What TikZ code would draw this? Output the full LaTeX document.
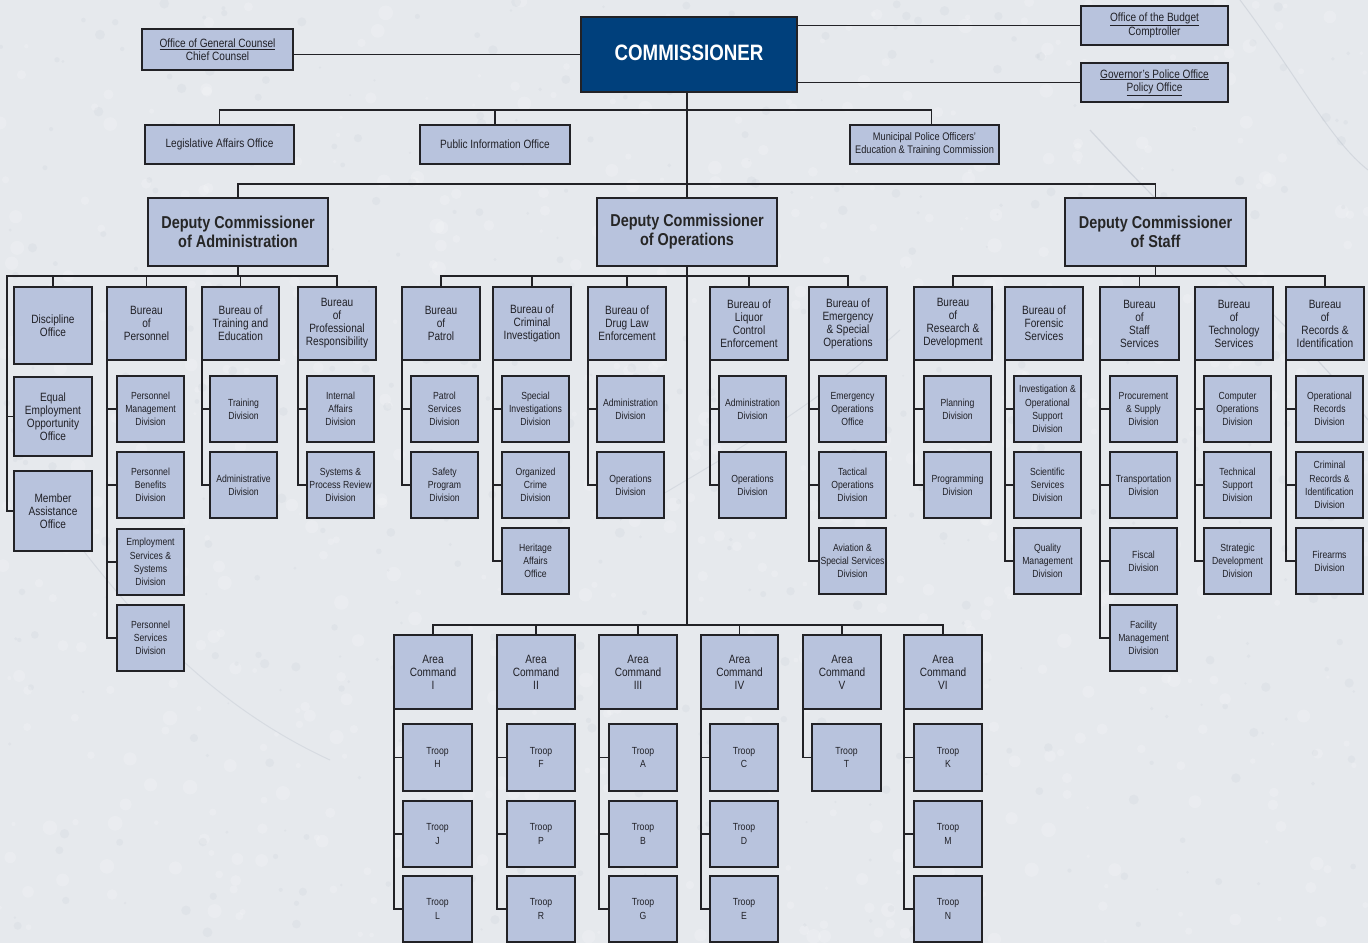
\documentclass[tikz,border=0pt]{standalone}
\usepackage{fontspec}
\setmainfont{Liberation Sans}[FakeStretch=0.84]
\definecolor{bg}{RGB}{230,233,237}
\definecolor{bgdark}{RGB}{170,178,190}
\definecolor{boxfill}{RGB}{184,195,221}
\definecolor{boxline}{RGB}{34,34,38}
\definecolor{commblue}{RGB}{0,64,124}
\definecolor{txt}{RGB}{32,32,38}
\newcommand\bx[7][]{\node[box,minimum width={(#5-#3)*1pt},minimum height={(#6-#4)*1pt},#1] (#2) at ({(#3+#5)/2},{(#4+#6)/2}) {#7};}
\newcommand\branch[2]{\foreach \c in {#2}{\draw[conn] (\c.west) -| (#1.south west);}}
\begin{document}
\begin{tikzpicture}[x=1pt,y=-1pt,
  box/.style={draw=boxline,fill=boxfill,line width=1.6pt,inner sep=1pt,outer sep=0pt,align=center,text=txt,font=\fontsize{12}{13}\selectfont},
  sub/.style={font=\fontsize{10.3}{13.3}\selectfont},
  dep/.style={font=\bfseries\fontsize{17.2}{19}\selectfont,text=black!85},
  conn/.style={draw=boxline,line width=1.5pt}]
\useasboundingbox (0,0) rectangle (1368,943);
\fill[bg] (0,0) rectangle (1368,943);
% subtle stone texture
\pgfmathsetseed{7}
\foreach \i in {1,...,700}{
  \pgfmathsetmacro\px{rnd*1368}\pgfmathsetmacro\py{rnd*943}\pgfmathsetmacro\pr{1.5+rnd*6}
  \fill[white,opacity=0.18] (\px,\py) circle[radius=\pr];}
\foreach \i in {1,...,500}{
  \pgfmathsetmacro\px{rnd*1368}\pgfmathsetmacro\py{rnd*943}\pgfmathsetmacro\pr{1+rnd*4}
  \fill[bgdark,opacity=0.10] (\px,\py) circle[radius=\pr];}
\draw[bgdark,opacity=0.35,line width=1.2pt] (1090,130) .. controls (1200,250) and (1300,330) .. (1368,420);
\draw[bgdark,opacity=0.30,line width=1pt] (1240,0) .. controls (1300,80) and (1330,140) .. (1368,170);
\draw[bgdark,opacity=0.25,line width=1pt] (60,520) .. controls (120,600) and (200,700) .. (330,760);
\draw[bgdark,opacity=0.25,line width=1pt] (620,520) .. controls (700,470) and (800,420) .. (900,330);
% top level
\bx[fill=commblue,text=white,font=\bfseries\fontsize{22.3}{24}\selectfont]{comm}{581}{17}{797}{92}{\raisebox{4pt}{COMMISSIONER}}
\bx{gc}{142}{29}{293}{70}{\underline{Office of General Counsel}\\Chief Counsel}
\bx{bud}{1081}{6}{1228}{45}{\underline{Office of the Budget}\\Comptroller}
\bx{gov}{1081}{63}{1228}{102}{\underline{Governor's Police Office}\\\underline{Policy Office}}
\bx{leg}{145}{125}{294}{164}{Legislative Affairs Office}
\bx{pub}{420}{125}{570}{164}{Public Information Office}
\bx[font=\fontsize{11}{13}\selectfont]{mun}{850}{125}{999}{164}{Municipal Police Officers'\\Education \& Training Commission}
% deputies
\bx[dep]{dadm}{148}{198}{328}{266}{Deputy Commissioner\\of Administration}
\bx[dep]{dops}{597}{198}{777}{266}{Deputy Commissioner\\of Operations}
\bx[dep]{dstf}{1065}{198}{1246}{266}{Deputy Commissioner\\of Staff}
% administration
\bx{disc}{14}{287}{92}{364}{Discipline\\Office}
\bx{eeo}{14}{377}{92}{456}{Equal\\Employment\\Opportunity\\Office}
\bx{mem}{14}{471}{92}{551}{Member\\Assistance\\Office}
\bx{pers}{107}{287}{186}{360}{Bureau\\of\\Personnel}
\bx[sub]{pmd}{117}{376}{184}{442}{Personnel\\Management\\Division}
\bx[sub]{pbd}{117}{452}{184}{518}{Personnel\\Benefits\\Division}
\bx[sub]{esd}{117}{529}{184}{595}{Employment\\Services \&\\Systems\\Division}
\bx[sub]{psd}{117}{605}{184}{671}{Personnel\\Services\\Division}
\bx{trn}{202}{287}{279}{360}{Bureau of\\Training and\\Education}
\bx[sub]{trd}{210}{376}{277}{442}{Training\\Division}
\bx[sub]{add}{210}{452}{277}{518}{Administrative\\Division}
\bx{prof}{298}{287}{376}{360}{Bureau\\of\\Professional\\Responsibility}
\bx[sub]{iad}{307}{376}{374}{442}{Internal\\Affairs\\Division}
\bx[sub]{spr}{307}{452}{374}{518}{Systems \&\\Process Review\\Division}
% operations
\bx{pat}{402}{287}{480}{360}{Bureau\\of\\Patrol}
\bx[sub]{psv}{411}{376}{478}{442}{Patrol\\Services\\Division}
\bx[sub]{spd}{411}{452}{478}{518}{Safety\\Program\\Division}
\bx{cri}{493}{287}{571}{360}{Bureau of\\Criminal\\Investigation}
\bx[sub]{sid}{502}{376}{569}{442}{Special\\Investigations\\Division}
\bx[sub]{ocd}{502}{452}{569}{518}{Organized\\Crime\\Division}
\bx[sub]{hao}{502}{528}{569}{594}{Heritage\\Affairs\\Office}
\bx{drg}{588}{287}{666}{360}{Bureau of\\Drug Law\\Enforcement}
\bx[sub]{dad}{597}{376}{664}{442}{Administration\\Division}
\bx[sub]{dod}{597}{452}{664}{518}{Operations\\Division}
\bx{liq}{710}{287}{788}{360}{Bureau of\\Liquor\\Control\\Enforcement}
\bx[sub]{lad}{719}{376}{786}{442}{Administration\\Division}
\bx[sub]{lod}{719}{452}{786}{518}{Operations\\Division}
\bx{emg}{809}{287}{887}{360}{Bureau of\\Emergency\\\& Special\\Operations}
\bx[sub]{eoo}{819}{376}{886}{442}{Emergency\\Operations\\Office}
\bx[sub]{tod}{819}{452}{886}{518}{Tactical\\Operations\\Division}
\bx[sub]{avd}{819}{528}{886}{594}{Aviation \&\\Special Services\\Division}
% staff
\bx{res}{914}{287}{992}{360}{Bureau\\of\\Research \&\\Development}
\bx[sub]{pld}{924}{376}{991}{442}{Planning\\Division}
\bx[sub]{prd}{924}{452}{991}{518}{Programming\\Division}
\bx{fors}{1005}{287}{1083}{360}{Bureau of\\Forensic\\Services}
\bx[sub]{iosd}{1014}{376}{1081}{442}{Investigation \&\\Operational\\Support\\Division}
\bx[sub]{ssd}{1014}{452}{1081}{518}{Scientific\\Services\\Division}
\bx[sub]{qmd}{1014}{528}{1081}{594}{Quality\\Management\\Division}
\bx{sts}{1100}{287}{1179}{360}{Bureau\\of\\Staff\\Services}
\bx[sub]{psu}{1110}{376}{1177}{442}{Procurement\\\& Supply\\Division}
\bx[sub]{trp}{1110}{452}{1177}{518}{Transportation\\Division}
\bx[sub]{fis}{1110}{528}{1177}{594}{Fiscal\\Division}
\bx[sub]{fmd}{1110}{605}{1177}{671}{Facility\\Management\\Division}
\bx{tec}{1195}{287}{1273}{360}{Bureau\\of\\Technology\\Services}
\bx[sub]{cod}{1204}{376}{1271}{442}{Computer\\Operations\\Division}
\bx[sub]{tsd}{1204}{452}{1271}{518}{Technical\\Support\\Division}
\bx[sub]{sdd}{1204}{528}{1271}{594}{Strategic\\Development\\Division}
\bx{rec}{1286}{287}{1364}{360}{Bureau\\of\\Records \&\\Identification}
\bx[sub]{ord}{1296}{376}{1363}{442}{Operational\\Records\\Division}
\bx[sub]{crd}{1296}{452}{1363}{518}{Criminal\\Records \&\\Identification\\Division}
\bx[sub]{fad}{1296}{528}{1363}{594}{Firearms\\Division}
% area commands
\bx{a1}{394}{635}{472}{709}{Area\\Command\\I}
\bx{a2}{497}{635}{575}{709}{Area\\Command\\II}
\bx{a3}{599}{635}{677}{709}{Area\\Command\\III}
\bx{a4}{701}{635}{778}{709}{Area\\Command\\IV}
\bx{a5}{803}{635}{881}{709}{Area\\Command\\V}
\bx{a6}{904}{635}{982}{709}{Area\\Command\\VI}
\bx[sub]{tH}{403}{724}{472}{791}{Troop\\H}
\bx[sub]{tJ}{403}{801}{472}{867}{Troop\\J}
\bx[sub]{tL}{403}{876}{472}{942}{Troop\\L}
\bx[sub]{tF}{507}{724}{575}{791}{Troop\\F}
\bx[sub]{tP}{507}{801}{575}{867}{Troop\\P}
\bx[sub]{tR}{507}{876}{575}{942}{Troop\\R}
\bx[sub]{tA}{609}{724}{677}{791}{Troop\\A}
\bx[sub]{tB}{609}{801}{677}{867}{Troop\\B}
\bx[sub]{tG}{609}{876}{677}{942}{Troop\\G}
\bx[sub]{tC}{710}{724}{778}{791}{Troop\\C}
\bx[sub]{tD}{710}{801}{778}{867}{Troop\\D}
\bx[sub]{tE}{710}{876}{778}{942}{Troop\\E}
\bx[sub]{tT}{812}{724}{881}{791}{Troop\\T}
\bx[sub]{tK}{914}{724}{982}{791}{Troop\\K}
\bx[sub]{tM}{914}{801}{982}{867}{Troop\\M}
\bx[sub]{tN}{914}{876}{982}{942}{Troop\\N}
% ---- connectors
\draw[conn] (comm.west) -- (comm.west -| gc.east);
\draw[conn] (bud.west) -- (bud.west -| comm.east);
\draw[conn] (gov.west) -- (gov.west -| comm.east);
\coordinate (tbus) at ([yshift=15pt]leg.north);
\coordinate (munT) at ([xshift=7pt]mun.north);
\draw[conn] (leg.north) |- (munT |- tbus) -- (munT);
\draw[conn] (pub.north) -- (pub.north |- tbus);
\draw[conn] (dops.north |- comm.south) -- (dops.north);
\coordinate (dbus) at ([yshift=14pt]dadm.north);
\draw[conn] (dadm.north) |- (dstf.north |- dbus) -- (dstf.north);
% admin bus
\coordinate (aL) at (7,276);
\draw[conn] (dadm.south) -- (dadm.south |- aL);
\draw[conn] (mem.west) -| (aL) -- (aL -| prof.north) -- (prof.north);
\draw[conn] (eeo.west) -- (eeo.west -| aL);
\foreach \n in {disc,pers,trn} \draw[conn] (\n.north) -- (\n.north |- aL);
\branch{pers}{pmd,pbd,esd,psd}
\branch{trn}{trd,add}
\branch{prof}{iad,spr}
% operations bus
\coordinate (obus) at ([yshift=11pt]pat.north);
\draw[conn] (pat.north) |- (emg.north |- obus) -- (emg.north);
\foreach \n in {cri,drg,liq} \draw[conn] (\n.north) -- (\n.north |- obus);
\branch{pat}{psv,spd}
\branch{cri}{sid,ocd,hao}
\branch{drg}{dad,dod}
\branch{liq}{lad,lod}
\branch{emg}{eoo,tod,avd}
% staff bus
\coordinate (sbus) at ([yshift=11pt]res.north);
\draw[conn] (dstf.south) -- (dstf.south |- sbus);
\draw[conn] (res.north) |- (rec.north |- sbus) -- (rec.north);
\draw[conn] (sts.north) -- (sts.north |- sbus);
\branch{res}{pld,prd}
\branch{fors}{iosd,ssd,qmd}
\branch{sts}{psu,trp,fis,fmd}
\branch{tec}{cod,tsd,sdd}
\branch{rec}{ord,crd,fad}
% area commands
\coordinate (abus) at ([yshift=10pt]a1.north);
\draw[conn] (dops.south) -- (dops.south |- abus);
\draw[conn] (a1.north) |- (a6.north |- abus) -- (a6.north);
\foreach \n in {a2,a3,a4,a5} \draw[conn] (\n.north) -- (\n.north |- abus);
\branch{a1}{tH,tJ,tL}
\branch{a2}{tF,tP,tR}
\branch{a3}{tA,tB,tG}
\branch{a4}{tC,tD,tE}
\branch{a5}{tT}
\branch{a6}{tK,tM,tN}
\end{tikzpicture}
\end{document}
